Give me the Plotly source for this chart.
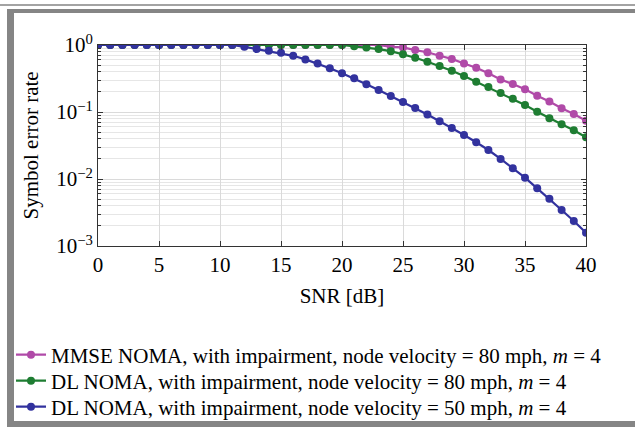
import plotly.graph_objects as go

snr = list(range(0, 41))

ser_mmse_80 = [1.0]*24 + [0.94, 0.92, 0.84, 0.78, 0.69, 0.62, 0.53, 0.458, 0.378,
                          0.305, 0.262, 0.218, 0.175, 0.143, 0.1135, 0.0933, 0.0742]
ser_dl_80 = [1.0]*21 + [0.955, 0.92, 0.87, 0.81, 0.73, 0.646, 0.563, 0.486, 0.413, 0.345,
                        0.283, 0.236, 0.192, 0.158, 0.127, 0.101, 0.0805, 0.0655, 0.0533, 0.0419]
ser_dl_50 = [1.0]*12 + [0.94, 0.87, 0.82, 0.765, 0.69, 0.61, 0.53, 0.45, 0.38, 0.318,
                        0.259, 0.213, 0.173, 0.141, 0.115, 0.0918, 0.0727, 0.0577, 0.0454,
                        0.0353, 0.0271, 0.0199, 0.01445, 0.01045, 0.00726, 0.00508,
                        0.00345, 0.00236, 0.00158]

names = [
    "MMSE NOMA, with impairment, node velocity = 80 mph, <i>m</i> = 4",
    "DL NOMA, with impairment, node velocity = 80 mph, <i>m</i> = 4",
    "DL NOMA, with impairment, node velocity = 50 mph, <i>m</i> = 4",
]
colors = ["#B04AA8", "#1E7D32", "#32329E"]
series = [ser_mmse_80, ser_dl_80, ser_dl_50]

x_ticks = [0, 5, 10, 15, 20, 25, 30, 35, 40]
y_ticks = [1, 0.1, 0.01, 0.001]
y_ticktext = ["10<sup>0</sup>", "10<sup>−1</sup>", "10<sup>−2</sup>", "10<sup>−3</sup>"]
y_minor = [m * 10.0**e for e in (-3, -2, -1) for m in range(2, 10)]

FONT = "Liberation Serif"
FS = 21
W, H = 635, 429
L, R, T, B = 98, 586, 45, 246

def px(x):
    return (x - L) / (R - L)

def py(y):
    return (B - y) / (B - T)

legend_ids = ["legend", "legend2", "legend3"]
legend_y = [355, 381, 407]

fig = go.Figure()
for name, col, s, lid in zip(names, colors, series, legend_ids):
    fig.add_trace(go.Scatter(
        x=snr, y=s, name=name, mode="lines+markers",
        line=dict(color=col, width=2.2),
        marker=dict(color=col, size=8, symbol="circle"),
        legend=lid,
    ))

frame = "#858585"
shapes = [
    dict(type="rect", xref="paper", yref="paper", x0=px(0), x1=px(W), y0=py(4.3), y1=py(5.7),
         fillcolor=frame, line=dict(width=0), layer="below"),
    dict(type="rect", xref="paper", yref="paper", x0=px(7), x1=px(W), y0=py(9), y1=py(13),
         fillcolor=frame, line=dict(width=0), layer="below"),
    dict(type="rect", xref="paper", yref="paper", x0=px(7), x1=px(14), y0=py(9), y1=py(427),
         fillcolor=frame, line=dict(width=0), layer="below"),
    dict(type="rect", xref="paper", yref="paper", x0=px(7), x1=px(W), y0=py(421), y1=py(427),
         fillcolor=frame, line=dict(width=0), layer="below"),
]

layout_legends = {}
for lid, ly in zip(legend_ids, legend_y):
    layout_legends[lid] = dict(
        x=px(11), y=py(ly), xanchor="left", yanchor="middle",
        bgcolor="rgba(0,0,0,0)", font=dict(family=FONT, size=FS),
        itemwidth=30, borderwidth=0,
    )

fig.update_layout(
    width=W, height=H,
    margin=dict(l=L, r=W - R, t=T, b=H - B, autoexpand=False),
    paper_bgcolor="white", plot_bgcolor="white",
    font=dict(family=FONT, size=FS, color="black"),
    showlegend=True,
    shapes=shapes,
    annotations=[dict(text="Symbol error rate", textangle=-90, xref="paper", yref="paper",
                      x=px(30), y=0.5, xanchor="center", yanchor="middle", showarrow=False,
                      font=dict(family=FONT, size=FS))],
    **layout_legends,
)

fig.update_xaxes(
    range=[0, 40], tickvals=x_ticks, ticks="inside", ticklen=5, tickcolor="#333",
    showline=True, linecolor="#333", linewidth=1, mirror="ticks",
    showgrid=True, gridcolor="#DADADA", gridwidth=1, zeroline=False, automargin=False,
    title=dict(text="SNR [dB]", standoff=12, font=dict(family=FONT, size=FS)),
    tickfont=dict(family=FONT, size=FS),
)
fig.update_yaxes(
    type="log", range=[-3, 0], tickvals=y_ticks, ticktext=y_ticktext,
    ticks="inside", ticklen=5, tickcolor="#333",
    showline=True, linecolor="#333", linewidth=1, mirror="ticks",
    showgrid=True, gridcolor="#DADADA", gridwidth=1, zeroline=False, automargin=False,
    minor=dict(tickvals=y_minor, ticks="inside", ticklen=3, tickcolor="#333",
               showgrid=True, gridcolor="#E6E6E6", gridwidth=1),
    tickfont=dict(family=FONT, size=FS),
)

fig.write_html("out.html", config={"displayModeBar": False},
               post_script="document.body.style.margin='0';document.body.style.overflow='hidden';")
